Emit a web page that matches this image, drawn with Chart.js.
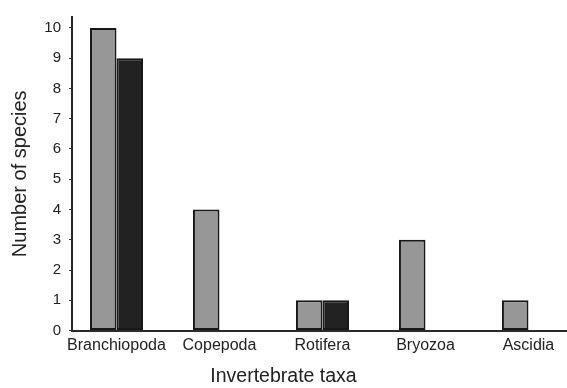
<!DOCTYPE html>
<html>
<head>
<meta charset="utf-8">
<script src="https://cdn.jsdelivr.net/npm/chart.js@4/dist/chart.umd.min.js"></script>
<style>
  html, body { margin: 0; padding: 0; background: #fff; }
  #wrap { width: 567px; height: 388px; }
</style>
</head>
<body>
<div id="wrap"><canvas id="chart"></canvas></div>
<script>
// values
const taxa = ['Branchiopoda', 'Copepoda', 'Rotifera', 'Bryozoa', 'Ascidia'];
const greySeries = [10, 4, 1, 3, 1];
const blackSeries = [9, null, 1, null, null];   // no black bar where empty
const yTickValues = [0, 1, 2, 3, 4, 5, 6, 7, 8, 9, 10];

const FONT = "'Liberation Sans', Arial, sans-serif";
const INK = '#222222';

// bars on a linear x axis so the y axis can sit a bit left of the first group
const toPoints = arr => arr.map((v, i) => ({ x: i, y: v }));

new Chart(document.getElementById('chart'), {
  type: 'bar',
  data: {
    datasets: [
      {
        data: toPoints(greySeries),
        backgroundColor: '#979797',
        borderColor: '#181818',
        borderWidth: 2,
        borderSkipped: false
      },
      {
        data: toPoints(blackSeries),
        backgroundColor: '#222222',
        borderColor: '#181818',
        borderWidth: 2,
        borderSkipped: false
      }
    ]
  },
  options: {
    responsive: true,
    maintainAspectRatio: false,
    animation: false,
    layout: { padding: { top: 14, right: 0, bottom: 0, left: 0 } },
    datasets: {
      bar: { categoryPercentage: 0.515, barPercentage: 1.0 }
    },
    plugins: {
      legend: { display: false },
      tooltip: { enabled: false },
      title: {
        display: true,
        position: 'bottom',
        text: 'Invertebrate taxa',
        color: INK,
        font: { family: FONT, size: 19.5, weight: 'normal' },
        padding: { top: 0, bottom: 0 }
      }
    },
    scales: {
      x: {
        type: 'linear',
        offset: false,
        min: -0.432,
        max: 4.374,
        afterBuildTicks: axis => { axis.ticks = taxa.map((t, i) => ({ value: i })); },
        afterFit: axis => { axis.height = 34; },
        grid: { display: false, drawTicks: false, offset: false },
        border: { display: true, color: '#2a2a2a', width: 2 },
        ticks: {
          autoSkip: false,
          maxRotation: 0,
          padding: 5,
          color: INK,
          font: { family: FONT, size: 16 },
          callback: v => taxa[v]
        }
      },
      y: {
        min: 0,
        max: 10.36,
        afterBuildTicks: axis => { axis.ticks = yTickValues.map(v => ({ value: v })); },
        afterFit: axis => { axis.width = 72; },
        grid: {
          display: true,
          drawOnChartArea: false,
          drawTicks: true,
          tickLength: 3,
          color: '#333',
          lineWidth: 1
        },
        border: { display: true, color: '#2a2a2a', width: 2 },
        ticks: {
          padding: 8,
          color: INK,
          font: { family: FONT, size: 15 }
        },
        title: {
          display: true,
          text: 'Number of species',
          color: INK,
          font: { family: FONT, size: 20, weight: 'normal' },
          padding: { top: 8, bottom: 0 }
        }
      }
    }
  }
});
</script>
</body>
</html>
